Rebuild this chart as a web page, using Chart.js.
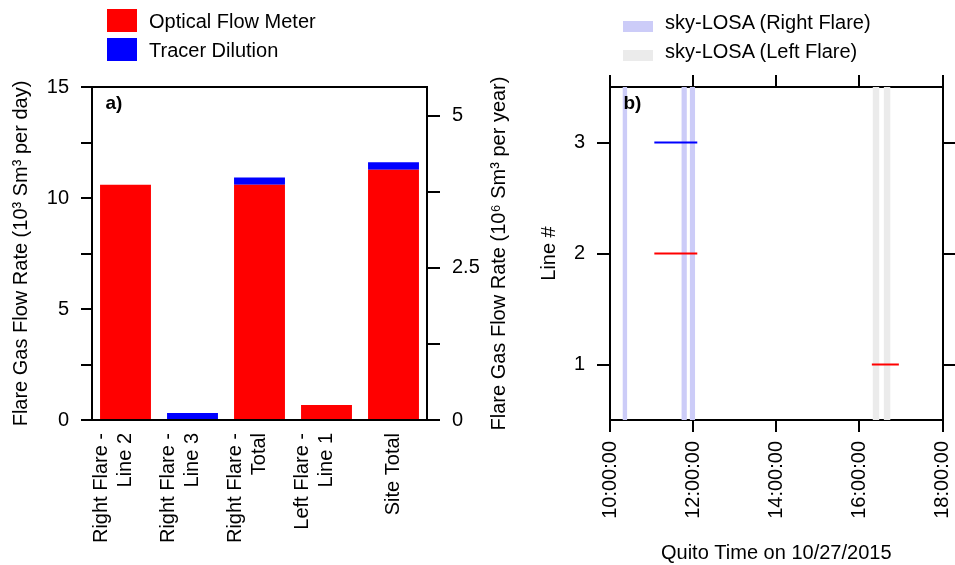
<!DOCTYPE html>
<html>
<head>
<meta charset="utf-8">
<script src="https://cdn.jsdelivr.net/npm/chart.js@4/dist/chart.umd.min.js"></script>
<style>
html,body{margin:0;padding:0;background:#fff;}
body{width:955px;height:565px;position:relative;overflow:hidden;font-family:"Liberation Sans",Arial,Helvetica,sans-serif;}
canvas{position:absolute;top:0;}
.lg{position:absolute;font-size:20px;line-height:24px;color:#000;white-space:nowrap;}
.sw{position:absolute;}
</style>
</head>
<body>
<canvas id="c1" width="530" height="565" style="left:0px"></canvas>
<canvas id="c2" width="425" height="565" style="left:530px"></canvas>

<div class="sw" style="left:107px;top:9px;width:30px;height:23px;background:#ff0000"></div>
<div class="lg" style="left:149px;top:9px">Optical Flow Meter</div>
<div class="sw" style="left:107px;top:38px;width:30px;height:23px;background:#0000ff"></div>
<div class="lg" style="left:149px;top:38px">Tracer Dilution</div>

<div class="sw" style="left:623px;top:21px;width:30px;height:11px;background:#ccccf8"></div>
<div class="lg" style="left:665px;top:10px">sky-LOSA (Right Flare)</div>
<div class="sw" style="left:623px;top:50px;width:30px;height:11px;background:#ebebeb"></div>
<div class="lg" style="left:665px;top:39px">sky-LOSA (Left Flare)</div>

<script>
// ---------- data: panel a) ----------
const barCategories = [
  ["Right Flare -", "Line 2"],
  ["Right Flare -", "Line 3"],
  ["Right Flare -", "Total"],
  ["Left Flare -", "Line 1"],
  ["Site Total"]
];
const opticalFlowMeter = [10.6, null, 10.6, 0.68, 11.27];   // 10^3 Sm3 per day
const tracerDilution   = [null, 0.31, 0.32, null, 0.34];    // 10^3 Sm3 per day
const leftAxisTitle  = "Flare Gas Flow Rate (10\u00B3 Sm\u00B3 per day)";
const rightAxisTitle = "Flare Gas Flow Rate (10\u2076 Sm\u00B3 per year)";

// ---------- data: panel b) ----------
const rightFlareStarts = ["10:18", "11:43", "11:55"];
const rightFlareEnds   = ["10:25", "11:51", "12:03"];
const leftFlareStarts  = ["16:19", "16:35"];
const leftFlareEnds    = ["16:29", "16:45"];
const lineNumbers    = [1, 2, 3];
const segmentLines   = [3, 2, 1];
const segmentStarts  = ["11:04", "11:04", "16:18"];
const segmentEnds    = ["12:06", "12:06", "16:57"];
const segmentMethods = ["Tracer Dilution", "Optical Flow Meter", "Optical Flow Meter"];
const timeAxisTitle = "Quito Time on 10/27/2015";
const lineAxisTitle = "Line #";

// ---------- helpers ----------
function hours(hhmm) { const p = hhmm.split(":"); return (+p[0]) + (+p[1]) / 60; }
const methodColor = { "Optical Flow Meter": "#ff0000", "Tracer Dilution": "#0000ff" };
const FONT = '"Liberation Sans", Arial, Helvetica, sans-serif';

Chart.defaults.font.family = FONT;
Chart.defaults.font.size = 20;
Chart.defaults.color = '#000';
Chart.defaults.animation = false;

const axisBorder = { display: true, color: '#000', width: 2 };
function noSidePad(s) { s.paddingLeft = 0; s.paddingRight = 0; }

const panelLabel = {
  id: 'panelLabel',
  afterDatasetsDraw(chart, args, opts) {
    const a = chart.chartArea, ctx = chart.ctx;
    ctx.save();
    ctx.font = 'bold 19px ' + FONT;
    ctx.fillStyle = '#000';
    ctx.textAlign = 'left';
    ctx.textBaseline = 'alphabetic';
    ctx.fillText(opts.text, a.left + 13.5, a.top + 22);
    ctx.restore();
  }
};

const y2Title = {
  id: 'y2Title',
  afterDraw(chart) {
    const s = chart.scales.y2, ctx = chart.ctx;
    ctx.save();
    ctx.font = '20px ' + FONT;
    ctx.fillStyle = '#000';
    ctx.textAlign = 'center';
    ctx.textBaseline = 'middle';
    ctx.translate(s.right - 31, (s.top + s.bottom) / 2);
    ctx.rotate(-Math.PI / 2);
    ctx.fillText(rightAxisTitle, 0, 0);
    ctx.restore();
  }
};

// ---------- panel a) ----------
new Chart(document.getElementById('c1'), {
  type: 'bar',
  data: {
    labels: barCategories,
    datasets: [
      { label: 'Optical Flow Meter', data: opticalFlowMeter, backgroundColor: '#ff0000', borderWidth: 0 },
      { label: 'Tracer Dilution', data: tracerDilution, backgroundColor: '#0000ff', borderWidth: 0 }
    ]
  },
  plugins: [panelLabel, y2Title],
  options: {
    responsive: false,
    animation: false,
    layout: { padding: { top: 87, left: 0, right: 0, bottom: 0 } },
    datasets: { bar: { barPercentage: 0.76, categoryPercentage: 1 } },
    plugins: { legend: { display: false }, tooltip: { enabled: false }, panelLabel: { text: 'a)' } },
    scales: {
      x: {
        type: 'category', position: 'bottom', stacked: true,
        grid: { display: false, drawTicks: false },
        border: axisBorder,
        ticks: {
          autoSkip: false, minRotation: 90, maxRotation: 90, padding: 13, labelOffset: -24,
          callback: function (v, i) { const l = barCategories[i]; return l.length === 1 ? ['', l[0]] : l; }
        },
        afterFit: s => { s.height = 145; noSidePad(s); }
      },
      xTop: {
        type: 'category', position: 'top',
        grid: { display: false, drawTicks: false },
        border: axisBorder,
        ticks: { display: false },
        afterFit: s => { s.height = 0; noSidePad(s); }
      },
      y: {
        type: 'linear', position: 'left', stacked: true, min: 0, max: 15,
        grid: { drawOnChartArea: false, drawTicks: true, tickLength: 11, color: '#000', lineWidth: 2 },
        border: axisBorder,
        ticks: { stepSize: 2.5, padding: 12, callback: v => (Math.abs(v % 5) < 1e-9 ? String(v) : '') },
        title: { display: true, text: leftAxisTitle, padding: { top: 9, bottom: 0 } },
        afterFit: s => { s.width = 92; }
      },
      y2: {
        type: 'linear', position: 'right', min: 0, max: 15 * 365 / 1000,
        grid: { drawOnChartArea: false, drawTicks: true, tickLength: 13, color: '#000', lineWidth: 2 },
        border: axisBorder,
        ticks: { stepSize: 1.25, includeBounds: false, padding: 12, callback: v => (Math.abs(v % 2.5) < 1e-9 ? String(v) : '') },
        afterFit: s => { s.width = 103; }
      }
    }
  }
});

// ---------- panel b) ----------
const segDatasets = segmentLines.map((ln, i) => ({
  label: segmentMethods[i] + ' line ' + ln,
  data: [{ x: hours(segmentStarts[i]), y: ln }, { x: hours(segmentEnds[i]), y: ln }],
  borderColor: methodColor[segmentMethods[i]],
  borderWidth: 2, pointRadius: 0, fill: false
}));
function bandSets(starts, ends, color, name) {
  return starts.map((s, i) => ({
    label: name,
    data: [{ x: hours(s), y: 3.5 }, { x: hours(ends[i]), y: 3.5 }],
    fill: 'start', backgroundColor: color,
    borderColor: 'rgba(0,0,0,0)', borderWidth: 0, pointRadius: 0
  }));
}
const bandDatasets = bandSets(rightFlareStarts, rightFlareEnds, '#ccccf8', 'sky-LOSA (Right Flare)')
  .concat(bandSets(leftFlareStarts, leftFlareEnds, '#ebebeb', 'sky-LOSA (Left Flare)'));

const lineTicks = s => { s.ticks = lineNumbers.map(v => ({ value: v })); };

new Chart(document.getElementById('c2'), {
  type: 'line',
  data: { datasets: segDatasets.concat(bandDatasets) },
  plugins: [panelLabel],
  options: {
    responsive: false,
    animation: false,
    layout: { padding: { top: 87, left: 0, right: 0, bottom: 0 } },
    plugins: { legend: { display: false }, tooltip: { enabled: false }, panelLabel: { text: 'b)' } },
    scales: {
      x: {
        type: 'linear', position: 'bottom', min: 10, max: 18,
        grid: { drawOnChartArea: false, drawTicks: true, tickLength: 12, color: '#000', lineWidth: 2 },
        border: axisBorder,
        ticks: { stepSize: 2, minRotation: 90, maxRotation: 90, padding: 9, callback: v => v + ':00:00' },
        title: { display: true, text: timeAxisTitle, padding: { top: 0, bottom: 0 } },
        afterFit: s => { s.height = 145; noSidePad(s); }
      },
      xTop: {
        type: 'linear', position: 'top', min: 10, max: 18,
        grid: { drawOnChartArea: false, drawTicks: true, tickLength: 12, color: '#000', lineWidth: 2 },
        border: axisBorder,
        ticks: { stepSize: 2, display: false },
        afterFit: s => { s.height = 0; noSidePad(s); }
      },
      y: {
        type: 'linear', position: 'left', min: 0.5, max: 3.5,
        grid: { drawOnChartArea: false, drawTicks: true, tickLength: 13, color: '#000', lineWidth: 2 },
        border: axisBorder,
        ticks: { padding: 12 },
        afterBuildTicks: lineTicks,
        title: { display: true, text: lineAxisTitle, padding: { top: 7, bottom: 0 } },
        afterFit: s => { s.width = 80; }
      },
      yR: {
        type: 'linear', position: 'right', min: 0.5, max: 3.5,
        grid: { drawOnChartArea: false, drawTicks: true, tickLength: 13, color: '#000', lineWidth: 2 },
        border: axisBorder,
        ticks: { display: false },
        afterBuildTicks: lineTicks,
        afterFit: s => { s.width = 12.5; }
      }
    }
  }
});
</script>
</body>
</html>
